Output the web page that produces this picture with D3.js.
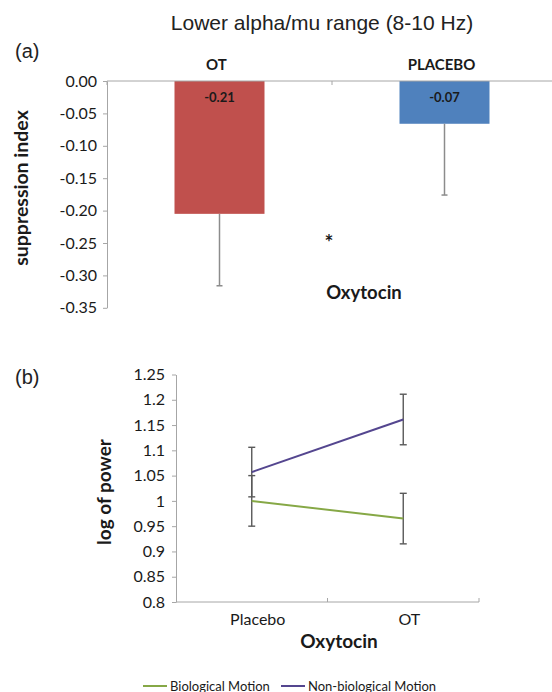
<!DOCTYPE html>
<html>
<head>
<meta charset="utf-8">
<script src="https://cdn.jsdelivr.net/npm/d3@7"></script>
<style>
  body { margin: 0; background: #fff; }
  svg { display: block; }
  .calib { font-family: Lato, "Open Sans", sans-serif; fill: #1a1a1a; }
  .arial { font-family: "Liberation Sans", Arial, sans-serif; fill: #222; }
  .axis path, .axis line { stroke: #a6a6a6; }
  .axis text { font-family: Lato, sans-serif; font-size: 16px; fill: #1a1a1a; }
</style>
</head>
<body>
<div id="chart"></div>
<script>
// ---- panel (a) data: suppression index ----
const barCats = ['OT', 'PLACEBO'];
const barValues = [-0.205, -0.066];
const barErrors = [0.111, 0.110];
const barLabels = ['-0.21', '-0.07'];
const barColors = ['#c0504d', '#4f81bd'];
const barTicks = [0, -0.05, -0.10, -0.15, -0.20, -0.25, -0.30, -0.35];
const barTickLabels = ['0.00', '-0.05', '-0.10', '-0.15', '-0.20', '-0.25', '-0.30', '-0.35'];

// ---- panel (b) data: log of power ----
const lineCats = ['Placebo', 'OT'];
const bioValues = [1.000, 0.965];
const bioErrors = [0.050, 0.050];
const nonBioValues = [1.057, 1.161];
const nonBioErrors = [0.049, 0.050];
const seriesNames = ['Biological Motion', 'Non-biological Motion'];
const seriesColors = ['#86a846', '#54468f'];
const lineTicks = [0.8, 0.85, 0.9, 0.95, 1, 1.05, 1.1, 1.15, 1.2, 1.25];
const lineTickLabels = ['0.8', '0.85', '0.9', '0.95', '1', '1.05', '1.1', '1.15', '1.2', '1.25'];

const width = 552, height = 692;

const svg = d3.select('#chart')
    .append('svg')
    .attr('width', width)
    .attr('height', height);

// title + panel letters
svg.append('text').attr('class', 'arial')
    .attr('x', 322).attr('y', 30)
    .attr('text-anchor', 'middle')
    .style('font-size', '21px')
    .text('Lower alpha/mu range (8-10 Hz)');

svg.append('text').attr('class', 'arial')
    .attr('x', 15).attr('y', 58)
    .style('font-size', '20px')
    .text('(a)');

svg.append('text').attr('class', 'arial')
    .attr('x', 15).attr('y', 384)
    .style('font-size', '20px')
    .text('(b)');


// =================== panel (a) ===================
const ya = d3.scaleLinear().domain([0, -0.35]).range([81, 307.8]);
const xa = d3.scaleBand().domain(barCats).range([107, 557])
    .paddingInner(0.6).paddingOuter(0.3);

const gA = svg.append('g');

// y axis
gA.append('g')
    .attr('class', 'axis')
    .attr('transform', 'translate(107,0)')
    .call(d3.axisLeft(ya)
        .tickValues(barTicks)
        .tickFormat((d, i) => barTickLabels[i])
        .tickSize(4).tickSizeOuter(0).tickPadding(6));

// bars
gA.selectAll('rect.bar')
    .data(barCats)
    .join('rect')
    .classed('bar', true)
    .attr('x', d => xa(d))
    .attr('width', xa.bandwidth())
    .attr('y', ya(0))
    .attr('height', (d, i) => ya(barValues[i]) - ya(0))
    .style('fill', (d, i) => barColors[i]);

// error bars (downward only)
const capA = 3;
barCats.forEach((c, i) => {
    const cx = xa(c) + xa.bandwidth() / 2;
    const y1 = ya(barValues[i]), y2 = ya(barValues[i] - barErrors[i]);
    gA.append('line')
        .attr('x1', cx).attr('x2', cx).attr('y1', y1).attr('y2', y2)
        .style('stroke', '#8c8c8c').style('stroke-width', 1.5);
    gA.append('line')
        .attr('x1', cx - capA).attr('x2', cx + capA).attr('y1', y2).attr('y2', y2)
        .style('stroke', '#8c8c8c').style('stroke-width', 1.5);
});

// top category axis at zero
const halfGap = (xa.step() - xa.bandwidth()) / 2;
const bounds = [xa.range()[0]].concat(barCats.map(c => xa(c) + xa.bandwidth() + halfGap));
gA.append('line')
    .attr('x1', xa.range()[0]).attr('x2', xa.range()[1])
    .attr('y1', ya(0)).attr('y2', ya(0))
    .style('stroke', '#a6a6a6');
gA.selectAll('line.ctick')
    .data(bounds)
    .join('line')
    .classed('ctick', true)
    .attr('x1', d => d).attr('x2', d => d)
    .attr('y1', ya(0)).attr('y2', ya(0) + 4)
    .style('stroke', '#a6a6a6');

// category labels above
gA.selectAll('text.cat')
    .data(barCats)
    .join('text')
    .attr('class', 'calib cat')
    .attr('x', d => xa(d) + xa.bandwidth() / 2 - 3)
    .attr('y', 70)
    .attr('text-anchor', 'middle')
    .style('font-size', '15px').style('font-weight', 'bold')
    .text(d => d);

// value labels inside bars
gA.selectAll('text.val')
    .data(barCats)
    .join('text')
    .attr('class', 'calib val')
    .attr('x', d => xa(d) + xa.bandwidth() / 2)
    .attr('y', ya(0) + 21)
    .attr('text-anchor', 'middle')
    .style('font-size', '13px').style('font-weight', 'bold')
    .text((d, i) => barLabels[i]);

// significance star
gA.append('text').attr('class', 'calib')
    .attr('x', bounds[1] - 3).attr('y', 250)
    .attr('text-anchor', 'middle')
    .style('font-size', '21px').style('font-weight', 'bold')
    .text('*');

// axis titles
gA.append('text').attr('class', 'calib')
    .attr('transform', 'translate(28,188) rotate(-90)')
    .attr('text-anchor', 'middle')
    .style('font-size', '19.5px').style('font-weight', 'bold')
    .text('suppression index');

gA.append('text').attr('class', 'calib')
    .attr('x', 364).attr('y', 299)
    .attr('text-anchor', 'middle')
    .style('font-size', '18.5px').style('font-weight', 'bold')
    .text('Oxytocin');


// =================== panel (b) ===================
const yb = d3.scaleLinear().domain([0.8, 1.25]).range([602, 374.5]);
const xb = d3.scaleBand().domain(lineCats).range([176, 479]);

const gB = svg.append('g');

gB.append('g')
    .attr('class', 'axis')
    .attr('transform', 'translate(176,0)')
    .call(d3.axisLeft(yb)
        .tickValues(lineTicks)
        .tickFormat((d, i) => lineTickLabels[i])
        .tickSize(4).tickSizeOuter(0).tickPadding(7));

// x axis with ticks between categories, pointing up
gB.append('line')
    .attr('x1', xb.range()[0]).attr('x2', xb.range()[1])
    .attr('y1', yb(0.8)).attr('y2', yb(0.8))
    .style('stroke', '#a6a6a6');
gB.selectAll('line.ctick')
    .data(lineCats.map(c => xb(c) + xb.bandwidth()))
    .join('line')
    .classed('ctick', true)
    .attr('x1', d => d).attr('x2', d => d)
    .attr('y1', yb(0.8)).attr('y2', yb(0.8) - 4)
    .style('stroke', '#a6a6a6');

gB.selectAll('text.cat')
    .data(lineCats)
    .join('text')
    .attr('class', 'calib cat')
    .attr('x', d => xb(d) + xb.bandwidth() / 2 + 6)
    .attr('y', 625)
    .attr('text-anchor', 'middle')
    .style('font-size', '16px')
    .text(d => d);

const series = [
    {name: seriesNames[0], values: bioValues, errors: bioErrors, color: seriesColors[0]},
    {name: seriesNames[1], values: nonBioValues, errors: nonBioErrors, color: seriesColors[1]}
];

const cxB = c => xb(c) + xb.bandwidth() / 2;
const line = d3.line()
    .x(d => cxB(d.cat))
    .y(d => yb(d.v));

// error bars first, lines on top
const capB = 3.5;
series.forEach(s => {
    lineCats.forEach((c, i) => {
        const x = cxB(c);
        const lo = yb(s.values[i] - s.errors[i]), hi = yb(s.values[i] + s.errors[i]);
        gB.append('line')
            .attr('x1', x).attr('x2', x).attr('y1', lo).attr('y2', hi)
            .style('stroke', '#595959').style('stroke-width', 1.4);
        [lo, hi].forEach(y => {
            gB.append('line')
                .attr('x1', x - capB).attr('x2', x + capB).attr('y1', y).attr('y2', y)
                .style('stroke', '#595959').style('stroke-width', 1.4);
        });
    });
});

series.forEach(s => {
    gB.append('path')
        .datum(lineCats.map((c, i) => ({cat: c, v: s.values[i]})))
        .attr('d', line)
        .style('fill', 'none')
        .style('stroke', s.color)
        .style('stroke-width', 2);
});

gB.append('text').attr('class', 'calib')
    .attr('transform', 'translate(111,492) rotate(-90)')
    .attr('text-anchor', 'middle')
    .style('font-size', '19px').style('font-weight', 'bold')
    .text('log of power');

gB.append('text').attr('class', 'calib')
    .attr('x', 339).attr('y', 648)
    .attr('text-anchor', 'middle')
    .style('font-size', '19px').style('font-weight', 'bold')
    .text('Oxytocin');

// legend
const legend = gB.append('g');
const legX = [143, 281];
series.forEach((s, i) => {
    legend.append('line')
        .attr('x1', legX[i]).attr('x2', legX[i] + 24)
        .attr('y1', 686).attr('y2', 686)
        .style('stroke', s.color).style('stroke-width', 2);
    legend.append('text').attr('class', 'calib')
        .attr('x', legX[i] + 27).attr('y', 690.5)
        .style('font-size', '13px')
        .text(s.name);
});
</script>
</body>
</html>
